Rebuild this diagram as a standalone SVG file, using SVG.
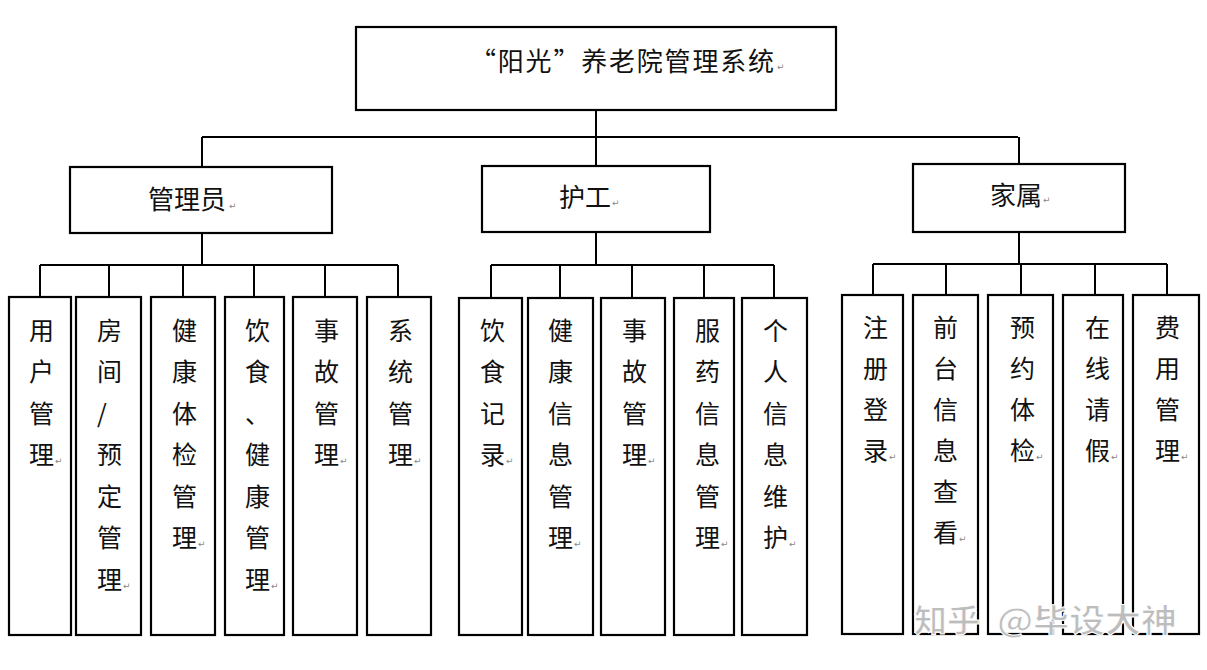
<svg xmlns="http://www.w3.org/2000/svg" width="1207" height="670" viewBox="0 0 1207 670">
<style>
.box{fill:#fff;stroke:#000;stroke-width:2.2}
.conn{fill:none;stroke:#000;stroke-width:2}
.t{font-family:"Noto Sans CJK SC","Noto Sans CJK JP",sans-serif;fill:#111;font-size:25px}
.t2{font-family:"Noto Sans CJK SC","Noto Sans CJK JP",sans-serif;fill:#111;font-size:26px}
.pm{font-family:"DejaVu Sans",sans-serif;fill:#888;font-size:9px}
.wm{font-family:"Noto Sans CJK SC",sans-serif;font-size:32px;font-weight:bold;fill:#bdbdbd;stroke:#fff;stroke-width:1}
</style>
<rect width="1207" height="670" fill="#fff"/>
<g id="connectors">
<path class="conn" d="M596 110V137M202 137H1018M202 137V167M596 137V166M1019 137V164"/>
<path class="conn" d="M202 233V265M40 265H398M40 265V297M109 265V297M183 265V297M254 265V297M325 265V297M398 265V297"/>
<path class="conn" d="M596 232V265M491 265H774M491 265V298M560 265V298M632 265V298M704 265V298M774 265V298"/>
<path class="conn" d="M1019 232V264M873 264H1167M873 264V295M946 264V295M1021 264V295M1095 264V295M1167 264V295"/>
</g>
<g id="root">
<rect class="box" x="356" y="27" width="480" height="83"/>
<text class="t2" x="470" y="71" letter-spacing="1.8">“阳光”养老院管理系统</text>
<text class="pm" x="777" y="70">↵</text>
</g>
<g id="admin">
<rect class="box" x="70" y="167" width="262" height="66"/>
<text class="t2" x="148" y="209">管理员</text>
<text class="pm" x="229" y="209">↵</text>
</g>
<g id="nurse">
<rect class="box" x="482" y="166" width="228" height="66"/>
<text class="t2" x="559" y="207">护工</text>
<text class="pm" x="612" y="206">↵</text>
</g>
<g id="family">
<rect class="box" x="913" y="164" width="212" height="68"/>
<text class="t2" x="990" y="205">家属</text>
<text class="pm" x="1043" y="203">↵</text>
</g>
<g id="a1"><rect class="box" x="9" y="297" width="62" height="338"/>
<text class="t" x="29 29 29 29" y="340 381 423 464">用户管理</text><text class="pm" x="55" y="464">↵</text></g>
<g id="a2"><rect class="box" x="76" y="297" width="65" height="338"/>
<text class="t" x="97 97 97 97 97 97 97" y="340 381 423 464 506 547 589">房间/预定管理</text><text class="pm" x="123" y="589">↵</text></g>
<g id="a3"><rect class="box" x="151" y="297" width="64" height="338"/>
<text class="t" x="172 172 172 172 172 172" y="340 381 423 464 506 547">健康体检管理</text><text class="pm" x="198" y="547">↵</text></g>
<g id="a4"><rect class="box" x="225" y="297" width="59" height="338"/>
<text class="t" x="245 245 245 245 245 245 245" y="340 381 423 464 506 547 589">饮食、健康管理</text><text class="pm" x="271" y="589">↵</text></g>
<g id="a5"><rect class="box" x="293" y="297" width="64" height="338"/>
<text class="t" x="314 314 314 314" y="340 381 423 464">事故管理</text><text class="pm" x="340" y="464">↵</text></g>
<g id="a6"><rect class="box" x="367" y="297" width="64" height="338"/>
<text class="t" x="388 388 388 388" y="340 381 423 464">系统管理</text><text class="pm" x="414" y="464">↵</text></g>
<g id="n1"><rect class="box" x="459" y="298" width="63" height="337"/>
<text class="t" x="480 480 480 480" y="340 381 423 464">饮食记录</text><text class="pm" x="506" y="464">↵</text></g>
<g id="n2"><rect class="box" x="528" y="298" width="65" height="337"/>
<text class="t" x="548 548 548 548 548 548" y="340 381 423 464 506 547">健康信息管理</text><text class="pm" x="574" y="547">↵</text></g>
<g id="n3"><rect class="box" x="601" y="298" width="64" height="337"/>
<text class="t" x="622 622 622 622" y="340 381 423 464">事故管理</text><text class="pm" x="648" y="464">↵</text></g>
<g id="n4"><rect class="box" x="674" y="298" width="60" height="337"/>
<text class="t" x="695 695 695 695 695 695" y="340 381 423 464 506 547">服药信息管理</text><text class="pm" x="721" y="547">↵</text></g>
<g id="n5"><rect class="box" x="742" y="298" width="65" height="337"/>
<text class="t" x="763 763 763 763 763 763" y="340 381 423 464 506 547">个人信息维护</text><text class="pm" x="789" y="547">↵</text></g>
<g id="f1"><rect class="box" x="842" y="295" width="61" height="339"/>
<text class="t" x="863 863 863 863" y="337 378 419 460">注册登录</text><text class="pm" x="889" y="460">↵</text></g>
<g id="f2"><rect class="box" x="913" y="295" width="65" height="339"/>
<text class="t" x="933 933 933 933 933 933" y="337 378 419 460 501 542">前台信息查看</text><text class="pm" x="959" y="542">↵</text></g>
<g id="f3"><rect class="box" x="988" y="295" width="65" height="339"/>
<text class="t" x="1010 1010 1010 1010" y="337 378 419 460">预约体检</text><text class="pm" x="1036" y="460">↵</text></g>
<g id="f4"><rect class="box" x="1063" y="295" width="60" height="339"/>
<text class="t" x="1085 1085 1085 1085" y="337 378 419 460">在线请假</text><text class="pm" x="1111" y="460">↵</text></g>
<g id="f5"><rect class="box" x="1133" y="295" width="66" height="339"/>
<text class="t" x="1155 1155 1155 1155" y="337 378 419 460">费用管理</text><text class="pm" x="1181" y="460">↵</text></g>
<g id="watermark">
<text class="wm" x="914" y="632" textLength="66" lengthAdjust="spacingAndGlyphs">知乎</text>
<text class="wm" x="997" y="632" textLength="180" lengthAdjust="spacingAndGlyphs">@毕设大神</text>
</g>
</svg>
